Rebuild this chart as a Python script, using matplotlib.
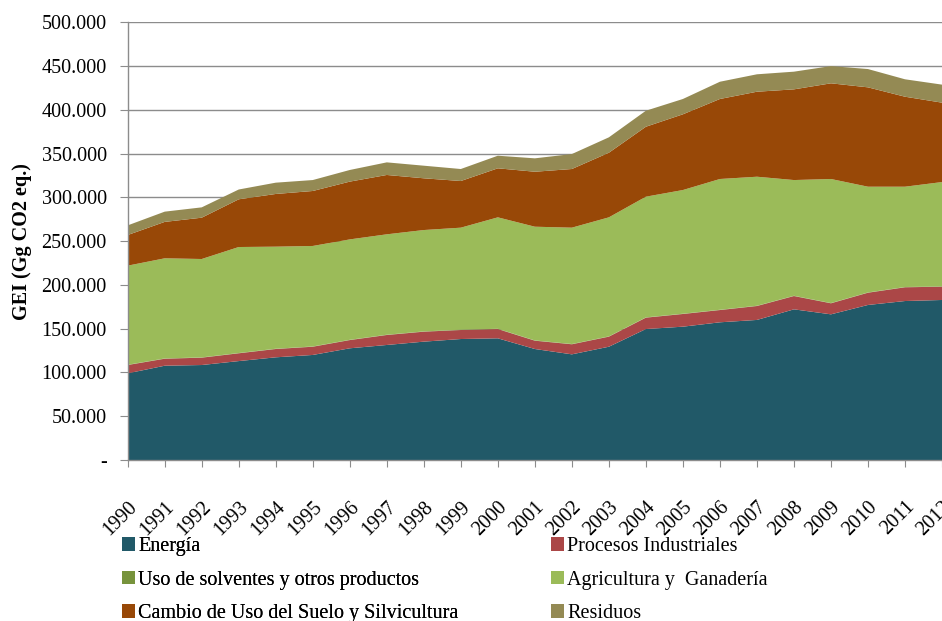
import matplotlib
matplotlib.use("Agg")
import matplotlib.pyplot as plt
from matplotlib.patches import Patch
from matplotlib.ticker import FuncFormatter, MultipleLocator

years = list(range(1990, 2013))
energia = [99.0, 107.7, 108.5, 113.0, 117.3, 120.0, 127.6, 131.4, 135.2, 138.2, 139.0, 126.8,
           120.7, 129.4, 149.6, 152.3, 157.3, 160.0, 172.1, 166.4, 177.1, 181.6, 182.8]
procesos = [9.5, 8.0, 8.4, 8.9, 9.5, 9.4, 9.4, 11.4, 11.4, 10.3, 10.6, 9.5,
            11.5, 11.5, 13.0, 14.5, 14.0, 15.9, 15.2, 12.6, 14.0, 15.7, 15.2]
solventes = [0.3, 0.3, 0.3, 0.3, 0.3, 0.3, 0.3, 0.3, 0.3, 0.3, 0.3, 0.3,
             0.3, 0.3, 0.3, 0.3, 0.3, 0.3, 0.3, 0.3, 0.3, 0.3, 0.3]
agricultura = [113.2, 114.4, 112.4, 121.1, 116.6, 114.8, 114.7, 114.7, 115.8, 116.6, 127.3, 129.9,
               132.9, 136.0, 137.9, 141.3, 149.4, 147.4, 132.2, 141.7, 120.8, 114.6, 119.2]
cambio_uso = [35.0, 41.6, 47.2, 54.5, 60.2, 62.8, 66.0, 67.8, 59.1, 53.3, 56.0, 62.8,
              67.0, 73.8, 79.9, 86.5, 91.4, 97.1, 103.6, 109.3, 113.5, 102.8, 90.7]
residuos = [11.0, 11.7, 11.8, 11.2, 12.9, 12.5, 13.3, 14.4, 14.4, 13.7, 14.4, 15.3,
            17.1, 17.6, 18.3, 17.5, 19.7, 19.9, 20.2, 19.7, 20.9, 19.9, 20.6]

labels = ["Energía", "Procesos Industriales", "Uso de solventes y otros productos",
          "Agricultura y  Ganadería", "Cambio de Uso del Suelo y Silvicultura", "Residuos"]
colors = ["#215968", "#AB4747", "#77933C", "#9BBB59", "#984807", "#948A54"]

scale = 1000.0
series = [[v * scale for v in s] for s in
          (energia, procesos, solventes, agricultura, cambio_uso, residuos)]

plt.rcParams['font.family'] = ['Liberation Serif', 'DejaVu Serif']

fig = plt.figure(figsize=(9.42, 6.21), dpi=100)
ax = fig.add_axes([127.7 / 942, 1 - 460 / 621, (942 - 127.7) / 942, (460 - 22.3) / 621])

ax.stackplot(years, *series, colors=colors, edgecolor="none", zorder=2)

ax.set_xlim(1990, 2012)
ax.set_ylim(0, 500000)
ax.yaxis.set_major_locator(MultipleLocator(50000))


def fmt(v, pos):
    if v == 0:
        return "-"
    return "{:,.0f}".format(v).replace(",", ".")


ax.yaxis.set_major_formatter(FuncFormatter(fmt))
ax.grid(axis="y", color="#8C8C8C", linewidth=1.0, zorder=0)
ax.set_axisbelow(True)

for s in ("top", "right"):
    ax.spines[s].set_visible(False)
for s in ("left", "bottom"):
    ax.spines[s].set_color("#8C8C8C")
    ax.spines[s].set_linewidth(1.0)

ax.set_xticks(years)
ax.set_xticklabels([str(y) for y in years], rotation=45, ha="right", va="top",
                   rotation_mode="anchor", fontsize=14.5)
ax.tick_params(axis="x", length=5, color="#8C8C8C", pad=22)
ax.tick_params(axis="y", length=6, color="#8C8C8C", labelsize=14.5, pad=9)

ax.set_ylabel("GEI (Gg CO2 eq.)", fontsize=14.5, fontweight="bold", labelpad=7)

handles = [Patch(facecolor=c, edgecolor="none") for c in colors]
common = dict(loc="upper left", frameon=False, fontsize=14.5, handlelength=0.65,
              handleheight=0.65, handletextpad=0.15, labelspacing=0.72,
              borderaxespad=0, borderpad=0)
leg1 = fig.legend([handles[i] for i in (0, 2, 4)], [labels[i] for i in (0, 2, 4)],
                  bbox_to_anchor=(122 / 942, 1 - 537 / 621), **common)
fig.add_artist(leg1)
leg2 = fig.legend([handles[i] for i in (1, 3, 5)], [labels[i] for i in (1, 3, 5)],
                  bbox_to_anchor=(551 / 942, 1 - 537 / 621), **common)

fig.savefig("out.png", dpi=100)
